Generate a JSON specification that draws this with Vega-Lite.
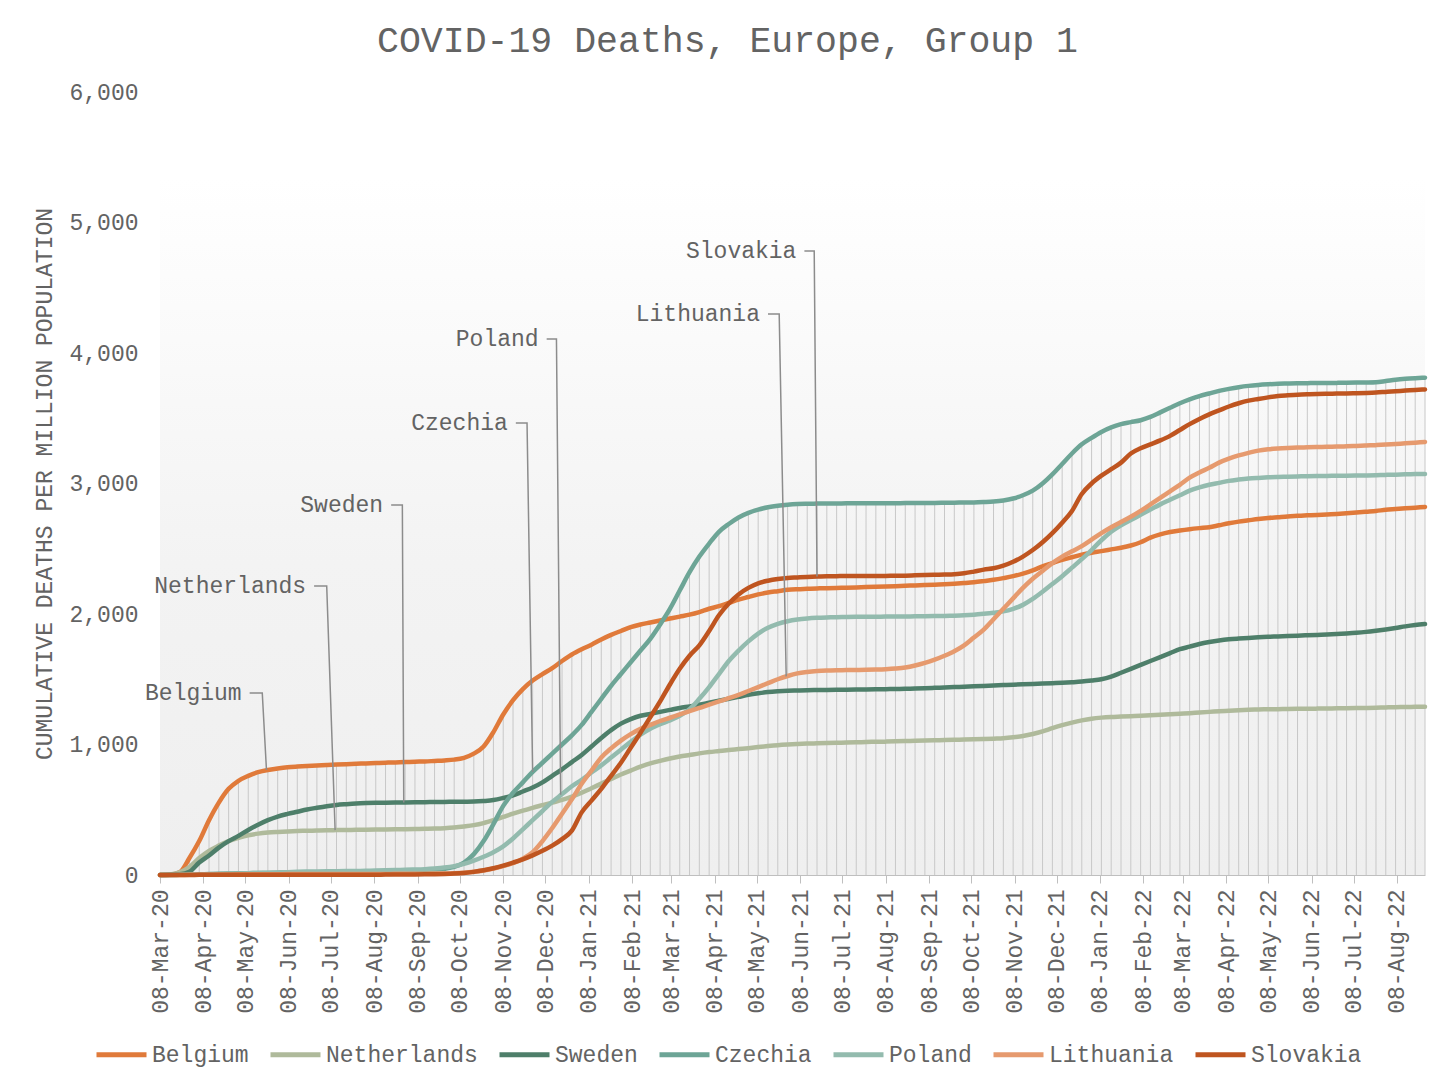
{
  "$schema": "https://vega.github.io/schema/vega-lite/v6.json",
  "width": 1265,
  "height": 783,
  "autosize": "none",
  "padding": {"left": 160, "top": 92, "right": 31, "bottom": 217},
  "background": "#ffffff",
  "title": {
    "text": "COVID-19 Deaths, Europe, Group 1",
    "font": "Liberation Mono",
    "fontSize": 36.5,
    "fontWeight": "normal",
    "color": "#636363",
    "offset": 22,
    "dx": -65
  },
  "config": {
    "font": "Liberation Mono",
    "view": {
      "stroke": null,
      "fill": {
        "gradient": "linear", "x1": 0, "y1": 0, "x2": 0, "y2": 1,
        "stops": [
          {"offset": 0, "color": "#ffffff"},
          {"offset": 0.11, "color": "#ffffff"},
          {"offset": 0.6, "color": "#f3f3f3"},
          {"offset": 1, "color": "#efefef"}
        ]
      }
    }
  },
  "datasets": {
    "deaths": [
      {"date": "2020-03-08", "Belgium": 0, "Netherlands": 0, "Sweden": 0, "Czechia": 0, "Poland": 0, "Lithuania": 0, "Slovakia": 0},
      {"date": "2020-03-15", "Belgium": 2, "Netherlands": 3, "Sweden": 1, "Czechia": 0, "Poland": 0, "Lithuania": 0, "Slovakia": 0},
      {"date": "2020-03-22", "Belgium": 20, "Netherlands": 20, "Sweden": 5, "Czechia": 1, "Poland": 1, "Lithuania": 0, "Slovakia": 0},
      {"date": "2020-03-29", "Belgium": 130, "Netherlands": 60, "Sweden": 25, "Czechia": 3, "Poland": 2, "Lithuania": 1, "Slovakia": 0},
      {"date": "2020-04-05", "Belgium": 260, "Netherlands": 130, "Sweden": 95, "Czechia": 5, "Poland": 4, "Lithuania": 1, "Slovakia": 1},
      {"date": "2020-04-12", "Belgium": 420, "Netherlands": 185, "Sweden": 150, "Czechia": 7, "Poland": 6, "Lithuania": 2, "Slovakia": 1},
      {"date": "2020-04-19", "Belgium": 555, "Netherlands": 225, "Sweden": 210, "Czechia": 9, "Poland": 8, "Lithuania": 3, "Slovakia": 1},
      {"date": "2020-04-26", "Belgium": 660, "Netherlands": 260, "Sweden": 260, "Czechia": 11, "Poland": 10, "Lithuania": 4, "Slovakia": 1},
      {"date": "2020-05-03", "Belgium": 722, "Netherlands": 285, "Sweden": 300, "Czechia": 13, "Poland": 12, "Lithuania": 5, "Slovakia": 1},
      {"date": "2020-05-10", "Belgium": 760, "Netherlands": 305, "Sweden": 345, "Czechia": 14, "Poland": 14, "Lithuania": 5, "Slovakia": 1},
      {"date": "2020-05-17", "Belgium": 788, "Netherlands": 317, "Sweden": 385, "Czechia": 15, "Poland": 16, "Lithuania": 6, "Slovakia": 1},
      {"date": "2020-05-24", "Belgium": 805, "Netherlands": 325, "Sweden": 420, "Czechia": 16, "Poland": 18, "Lithuania": 6, "Slovakia": 1},
      {"date": "2020-05-31", "Belgium": 816, "Netherlands": 330, "Sweden": 448, "Czechia": 17, "Poland": 20, "Lithuania": 6, "Slovakia": 1},
      {"date": "2020-06-07", "Belgium": 825, "Netherlands": 334, "Sweden": 468, "Czechia": 18, "Poland": 22, "Lithuania": 7, "Slovakia": 1},
      {"date": "2020-06-14", "Belgium": 831, "Netherlands": 337, "Sweden": 485, "Czechia": 19, "Poland": 24, "Lithuania": 7, "Slovakia": 1},
      {"date": "2020-06-21", "Belgium": 836, "Netherlands": 339, "Sweden": 502, "Czechia": 20, "Poland": 26, "Lithuania": 7, "Slovakia": 1},
      {"date": "2020-06-28", "Belgium": 840, "Netherlands": 341, "Sweden": 515, "Czechia": 21, "Poland": 27, "Lithuania": 7, "Slovakia": 2},
      {"date": "2020-07-05", "Belgium": 843, "Netherlands": 343, "Sweden": 527, "Czechia": 22, "Poland": 28, "Lithuania": 7, "Slovakia": 2},
      {"date": "2020-07-12", "Belgium": 846, "Netherlands": 344, "Sweden": 537, "Czechia": 23, "Poland": 29, "Lithuania": 7, "Slovakia": 2},
      {"date": "2020-07-19", "Belgium": 849, "Netherlands": 345, "Sweden": 543, "Czechia": 24, "Poland": 30, "Lithuania": 7, "Slovakia": 2},
      {"date": "2020-07-26", "Belgium": 852, "Netherlands": 346, "Sweden": 548, "Czechia": 25, "Poland": 31, "Lithuania": 8, "Slovakia": 2},
      {"date": "2020-08-02", "Belgium": 855, "Netherlands": 347, "Sweden": 551, "Czechia": 26, "Poland": 32, "Lithuania": 8, "Slovakia": 2},
      {"date": "2020-08-09", "Belgium": 858, "Netherlands": 348, "Sweden": 553, "Czechia": 27, "Poland": 34, "Lithuania": 8, "Slovakia": 2},
      {"date": "2020-08-16", "Belgium": 861, "Netherlands": 349, "Sweden": 554, "Czechia": 28, "Poland": 36, "Lithuania": 8, "Slovakia": 3},
      {"date": "2020-08-23", "Belgium": 863, "Netherlands": 350, "Sweden": 555, "Czechia": 29, "Poland": 38, "Lithuania": 9, "Slovakia": 3},
      {"date": "2020-08-30", "Belgium": 865, "Netherlands": 351, "Sweden": 556, "Czechia": 31, "Poland": 40, "Lithuania": 9, "Slovakia": 3},
      {"date": "2020-09-06", "Belgium": 868, "Netherlands": 352, "Sweden": 557, "Czechia": 33, "Poland": 42, "Lithuania": 10, "Slovakia": 4},
      {"date": "2020-09-13", "Belgium": 870, "Netherlands": 354, "Sweden": 558, "Czechia": 36, "Poland": 45, "Lithuania": 10, "Slovakia": 5},
      {"date": "2020-09-20", "Belgium": 874, "Netherlands": 356, "Sweden": 559, "Czechia": 40, "Poland": 50, "Lithuania": 11, "Slovakia": 6},
      {"date": "2020-09-27", "Belgium": 878, "Netherlands": 359, "Sweden": 560, "Czechia": 48, "Poland": 57, "Lithuania": 12, "Slovakia": 8},
      {"date": "2020-10-04", "Belgium": 884, "Netherlands": 364, "Sweden": 561, "Czechia": 62, "Poland": 68, "Lithuania": 14, "Slovakia": 11},
      {"date": "2020-10-11", "Belgium": 898, "Netherlands": 372, "Sweden": 562, "Czechia": 95, "Poland": 85, "Lithuania": 18, "Slovakia": 16},
      {"date": "2020-10-18", "Belgium": 930, "Netherlands": 382, "Sweden": 563, "Czechia": 160, "Poland": 110, "Lithuania": 25, "Slovakia": 24},
      {"date": "2020-10-25", "Belgium": 985, "Netherlands": 398, "Sweden": 567, "Czechia": 260, "Poland": 140, "Lithuania": 35, "Slovakia": 36},
      {"date": "2020-11-01", "Belgium": 1095, "Netherlands": 420, "Sweden": 574, "Czechia": 390, "Poland": 175, "Lithuania": 50, "Slovakia": 52},
      {"date": "2020-11-08", "Belgium": 1230, "Netherlands": 445, "Sweden": 590, "Czechia": 530, "Poland": 220, "Lithuania": 68, "Slovakia": 72},
      {"date": "2020-11-15", "Belgium": 1340, "Netherlands": 470, "Sweden": 610, "Czechia": 630, "Poland": 280, "Lithuania": 90, "Slovakia": 95},
      {"date": "2020-11-22", "Belgium": 1425, "Netherlands": 493, "Sweden": 640, "Czechia": 710, "Poland": 350, "Lithuania": 125, "Slovakia": 120},
      {"date": "2020-11-29", "Belgium": 1490, "Netherlands": 515, "Sweden": 670, "Czechia": 790, "Poland": 420, "Lithuania": 175, "Slovakia": 150},
      {"date": "2020-12-06", "Belgium": 1540, "Netherlands": 535, "Sweden": 710, "Czechia": 860, "Poland": 490, "Lithuania": 260, "Slovakia": 185},
      {"date": "2020-12-13", "Belgium": 1585, "Netherlands": 555, "Sweden": 760, "Czechia": 930, "Poland": 560, "Lithuania": 360, "Slovakia": 225},
      {"date": "2020-12-20", "Belgium": 1640, "Netherlands": 575, "Sweden": 810, "Czechia": 1000, "Poland": 620, "Lithuania": 470, "Slovakia": 275},
      {"date": "2020-12-27", "Belgium": 1690, "Netherlands": 600, "Sweden": 865, "Czechia": 1070, "Poland": 680, "Lithuania": 580, "Slovakia": 340},
      {"date": "2021-01-03", "Belgium": 1730, "Netherlands": 630, "Sweden": 920, "Czechia": 1150, "Poland": 730, "Lithuania": 700, "Slovakia": 480},
      {"date": "2021-01-10", "Belgium": 1765, "Netherlands": 665, "Sweden": 985, "Czechia": 1250, "Poland": 785, "Lithuania": 800, "Slovakia": 570},
      {"date": "2021-01-17", "Belgium": 1805, "Netherlands": 700, "Sweden": 1050, "Czechia": 1350, "Poland": 840, "Lithuania": 900, "Slovakia": 660},
      {"date": "2021-01-24", "Belgium": 1840, "Netherlands": 735, "Sweden": 1110, "Czechia": 1450, "Poland": 900, "Lithuania": 970, "Slovakia": 760},
      {"date": "2021-01-31", "Belgium": 1870, "Netherlands": 770, "Sweden": 1160, "Czechia": 1540, "Poland": 960, "Lithuania": 1030, "Slovakia": 860},
      {"date": "2021-02-07", "Belgium": 1900, "Netherlands": 800, "Sweden": 1195, "Czechia": 1630, "Poland": 1020, "Lithuania": 1080, "Slovakia": 975},
      {"date": "2021-02-14", "Belgium": 1920, "Netherlands": 830, "Sweden": 1220, "Czechia": 1720, "Poland": 1075, "Lithuania": 1120, "Slovakia": 1090},
      {"date": "2021-02-21", "Belgium": 1935, "Netherlands": 855, "Sweden": 1235, "Czechia": 1810, "Poland": 1120, "Lithuania": 1150, "Slovakia": 1210},
      {"date": "2021-02-28", "Belgium": 1950, "Netherlands": 875, "Sweden": 1250, "Czechia": 1920, "Poland": 1155, "Lithuania": 1180, "Slovakia": 1330},
      {"date": "2021-03-07", "Belgium": 1965, "Netherlands": 893, "Sweden": 1265, "Czechia": 2040, "Poland": 1185, "Lithuania": 1205, "Slovakia": 1460},
      {"date": "2021-03-14", "Belgium": 1980, "Netherlands": 908, "Sweden": 1280, "Czechia": 2180, "Poland": 1220, "Lithuania": 1230, "Slovakia": 1580},
      {"date": "2021-03-21", "Belgium": 1995, "Netherlands": 920, "Sweden": 1292, "Czechia": 2320, "Poland": 1270, "Lithuania": 1255, "Slovakia": 1680},
      {"date": "2021-03-28", "Belgium": 2015, "Netherlands": 932, "Sweden": 1305, "Czechia": 2440, "Poland": 1350, "Lithuania": 1280, "Slovakia": 1760},
      {"date": "2021-04-04", "Belgium": 2040, "Netherlands": 942, "Sweden": 1320, "Czechia": 2540, "Poland": 1440, "Lithuania": 1305, "Slovakia": 1870},
      {"date": "2021-04-11", "Belgium": 2060, "Netherlands": 950, "Sweden": 1335, "Czechia": 2630, "Poland": 1540, "Lithuania": 1330, "Slovakia": 1990},
      {"date": "2021-04-18", "Belgium": 2085, "Netherlands": 958, "Sweden": 1350, "Czechia": 2690, "Poland": 1640, "Lithuania": 1355, "Slovakia": 2080},
      {"date": "2021-04-25", "Belgium": 2110, "Netherlands": 965, "Sweden": 1365, "Czechia": 2740, "Poland": 1720, "Lithuania": 1380, "Slovakia": 2150},
      {"date": "2021-05-02", "Belgium": 2130, "Netherlands": 972, "Sweden": 1380, "Czechia": 2775, "Poland": 1790, "Lithuania": 1410, "Slovakia": 2200},
      {"date": "2021-05-09", "Belgium": 2150, "Netherlands": 980, "Sweden": 1392, "Czechia": 2800, "Poland": 1850, "Lithuania": 1440, "Slovakia": 2235},
      {"date": "2021-05-16", "Belgium": 2165, "Netherlands": 988, "Sweden": 1402, "Czechia": 2818, "Poland": 1895, "Lithuania": 1470, "Slovakia": 2255},
      {"date": "2021-05-23", "Belgium": 2175, "Netherlands": 995, "Sweden": 1408, "Czechia": 2830, "Poland": 1925, "Lithuania": 1500, "Slovakia": 2268},
      {"date": "2021-05-30", "Belgium": 2185, "Netherlands": 1000, "Sweden": 1412, "Czechia": 2838, "Poland": 1945, "Lithuania": 1525, "Slovakia": 2276},
      {"date": "2021-06-06", "Belgium": 2190, "Netherlands": 1004, "Sweden": 1414, "Czechia": 2843, "Poland": 1958, "Lithuania": 1545, "Slovakia": 2280},
      {"date": "2021-06-13", "Belgium": 2193, "Netherlands": 1007, "Sweden": 1416, "Czechia": 2845, "Poland": 1966, "Lithuania": 1556, "Slovakia": 2284},
      {"date": "2021-06-20", "Belgium": 2196, "Netherlands": 1009, "Sweden": 1417, "Czechia": 2846, "Poland": 1971, "Lithuania": 1563, "Slovakia": 2287},
      {"date": "2021-06-27", "Belgium": 2198, "Netherlands": 1011, "Sweden": 1418, "Czechia": 2847, "Poland": 1974, "Lithuania": 1567, "Slovakia": 2289},
      {"date": "2021-07-04", "Belgium": 2200, "Netherlands": 1013, "Sweden": 1419, "Czechia": 2847, "Poland": 1976, "Lithuania": 1569, "Slovakia": 2290},
      {"date": "2021-07-11", "Belgium": 2202, "Netherlands": 1015, "Sweden": 1420, "Czechia": 2848, "Poland": 1977, "Lithuania": 1570, "Slovakia": 2291},
      {"date": "2021-07-18", "Belgium": 2204, "Netherlands": 1017, "Sweden": 1421, "Czechia": 2848, "Poland": 1978, "Lithuania": 1571, "Slovakia": 2291},
      {"date": "2021-07-25", "Belgium": 2206, "Netherlands": 1019, "Sweden": 1422, "Czechia": 2848, "Poland": 1979, "Lithuania": 1572, "Slovakia": 2291},
      {"date": "2021-08-01", "Belgium": 2208, "Netherlands": 1021, "Sweden": 1423, "Czechia": 2848, "Poland": 1979, "Lithuania": 1574, "Slovakia": 2291},
      {"date": "2021-08-08", "Belgium": 2210, "Netherlands": 1022, "Sweden": 1424, "Czechia": 2849, "Poland": 1980, "Lithuania": 1577, "Slovakia": 2292},
      {"date": "2021-08-15", "Belgium": 2213, "Netherlands": 1024, "Sweden": 1425, "Czechia": 2849, "Poland": 1980, "Lithuania": 1582, "Slovakia": 2293},
      {"date": "2021-08-22", "Belgium": 2216, "Netherlands": 1026, "Sweden": 1427, "Czechia": 2850, "Poland": 1981, "Lithuania": 1590, "Slovakia": 2294},
      {"date": "2021-08-29", "Belgium": 2219, "Netherlands": 1028, "Sweden": 1429, "Czechia": 2850, "Poland": 1982, "Lithuania": 1605, "Slovakia": 2296},
      {"date": "2021-09-05", "Belgium": 2222, "Netherlands": 1030, "Sweden": 1431, "Czechia": 2851, "Poland": 1983, "Lithuania": 1625, "Slovakia": 2298},
      {"date": "2021-09-12", "Belgium": 2225, "Netherlands": 1032, "Sweden": 1434, "Czechia": 2851, "Poland": 1984, "Lithuania": 1650, "Slovakia": 2300},
      {"date": "2021-09-19", "Belgium": 2228, "Netherlands": 1034, "Sweden": 1437, "Czechia": 2852, "Poland": 1985, "Lithuania": 1680, "Slovakia": 2302},
      {"date": "2021-09-26", "Belgium": 2232, "Netherlands": 1036, "Sweden": 1440, "Czechia": 2853, "Poland": 1987, "Lithuania": 1715, "Slovakia": 2305},
      {"date": "2021-10-03", "Belgium": 2237, "Netherlands": 1038, "Sweden": 1443, "Czechia": 2854, "Poland": 1990, "Lithuania": 1760, "Slovakia": 2312},
      {"date": "2021-10-10", "Belgium": 2243, "Netherlands": 1040, "Sweden": 1446, "Czechia": 2855, "Poland": 1995, "Lithuania": 1820, "Slovakia": 2325},
      {"date": "2021-10-17", "Belgium": 2252, "Netherlands": 1042, "Sweden": 1449, "Czechia": 2858, "Poland": 2002, "Lithuania": 1880, "Slovakia": 2340},
      {"date": "2021-10-24", "Belgium": 2262, "Netherlands": 1045, "Sweden": 1452, "Czechia": 2862, "Poland": 2010, "Lithuania": 1960, "Slovakia": 2350},
      {"date": "2021-10-31", "Belgium": 2275, "Netherlands": 1048, "Sweden": 1455, "Czechia": 2870, "Poland": 2020, "Lithuania": 2040, "Slovakia": 2370},
      {"date": "2021-11-07", "Belgium": 2290, "Netherlands": 1055, "Sweden": 1458, "Czechia": 2885, "Poland": 2040, "Lithuania": 2120, "Slovakia": 2400},
      {"date": "2021-11-14", "Belgium": 2310, "Netherlands": 1065, "Sweden": 1461, "Czechia": 2910, "Poland": 2070, "Lithuania": 2200, "Slovakia": 2440},
      {"date": "2021-11-21", "Belgium": 2335, "Netherlands": 1080, "Sweden": 1464, "Czechia": 2945, "Poland": 2115, "Lithuania": 2270, "Slovakia": 2490},
      {"date": "2021-11-28", "Belgium": 2365, "Netherlands": 1100, "Sweden": 1467, "Czechia": 3000, "Poland": 2170, "Lithuania": 2330, "Slovakia": 2550},
      {"date": "2021-12-05", "Belgium": 2390, "Netherlands": 1125, "Sweden": 1470, "Czechia": 3070, "Poland": 2230, "Lithuania": 2390, "Slovakia": 2620},
      {"date": "2021-12-12", "Belgium": 2415, "Netherlands": 1148, "Sweden": 1473, "Czechia": 3150, "Poland": 2290, "Lithuania": 2440, "Slovakia": 2700},
      {"date": "2021-12-19", "Belgium": 2435, "Netherlands": 1168, "Sweden": 1477, "Czechia": 3230, "Poland": 2355, "Lithuania": 2480, "Slovakia": 2790},
      {"date": "2021-12-26", "Belgium": 2455, "Netherlands": 1185, "Sweden": 1482, "Czechia": 3300, "Poland": 2420, "Lithuania": 2520, "Slovakia": 2920},
      {"date": "2022-01-02", "Belgium": 2470, "Netherlands": 1198, "Sweden": 1490, "Czechia": 3350, "Poland": 2490, "Lithuania": 2570, "Slovakia": 3000},
      {"date": "2022-01-09", "Belgium": 2482, "Netherlands": 1206, "Sweden": 1500, "Czechia": 3395, "Poland": 2565, "Lithuania": 2620, "Slovakia": 3060},
      {"date": "2022-01-16", "Belgium": 2495, "Netherlands": 1211, "Sweden": 1520, "Czechia": 3430, "Poland": 2630, "Lithuania": 2665, "Slovakia": 3110},
      {"date": "2022-01-23", "Belgium": 2508, "Netherlands": 1214, "Sweden": 1550, "Czechia": 3455, "Poland": 2680, "Lithuania": 2705, "Slovakia": 3160},
      {"date": "2022-01-30", "Belgium": 2525, "Netherlands": 1217, "Sweden": 1580, "Czechia": 3470, "Poland": 2720, "Lithuania": 2745, "Slovakia": 3230},
      {"date": "2022-02-06", "Belgium": 2550, "Netherlands": 1220, "Sweden": 1610, "Czechia": 3485, "Poland": 2760, "Lithuania": 2790, "Slovakia": 3270},
      {"date": "2022-02-13", "Belgium": 2585, "Netherlands": 1224, "Sweden": 1640, "Czechia": 3510, "Poland": 2800, "Lithuania": 2840, "Slovakia": 3300},
      {"date": "2022-02-20", "Belgium": 2610, "Netherlands": 1228, "Sweden": 1670, "Czechia": 3545, "Poland": 2840, "Lithuania": 2890, "Slovakia": 3330},
      {"date": "2022-02-27", "Belgium": 2628, "Netherlands": 1232, "Sweden": 1700, "Czechia": 3580, "Poland": 2875, "Lithuania": 2940, "Slovakia": 3365},
      {"date": "2022-03-06", "Belgium": 2640, "Netherlands": 1236, "Sweden": 1730, "Czechia": 3615, "Poland": 2910, "Lithuania": 2990, "Slovakia": 3410},
      {"date": "2022-03-13", "Belgium": 2650, "Netherlands": 1240, "Sweden": 1750, "Czechia": 3645, "Poland": 2945, "Lithuania": 3045, "Slovakia": 3455},
      {"date": "2022-03-20", "Belgium": 2658, "Netherlands": 1245, "Sweden": 1770, "Czechia": 3670, "Poland": 2970, "Lithuania": 3085, "Slovakia": 3495},
      {"date": "2022-03-27", "Belgium": 2665, "Netherlands": 1250, "Sweden": 1785, "Czechia": 3690, "Poland": 2990, "Lithuania": 3120, "Slovakia": 3530},
      {"date": "2022-04-03", "Belgium": 2680, "Netherlands": 1255, "Sweden": 1797, "Czechia": 3710, "Poland": 3005, "Lithuania": 3160, "Slovakia": 3560},
      {"date": "2022-04-10", "Belgium": 2695, "Netherlands": 1259, "Sweden": 1806, "Czechia": 3725, "Poland": 3020, "Lithuania": 3190, "Slovakia": 3590},
      {"date": "2022-04-17", "Belgium": 2708, "Netherlands": 1263, "Sweden": 1812, "Czechia": 3738, "Poland": 3030, "Lithuania": 3215, "Slovakia": 3615},
      {"date": "2022-04-24", "Belgium": 2718, "Netherlands": 1266, "Sweden": 1817, "Czechia": 3748, "Poland": 3038, "Lithuania": 3235, "Slovakia": 3635},
      {"date": "2022-05-01", "Belgium": 2728, "Netherlands": 1268, "Sweden": 1821, "Czechia": 3755, "Poland": 3043, "Lithuania": 3252, "Slovakia": 3648},
      {"date": "2022-05-08", "Belgium": 2736, "Netherlands": 1270, "Sweden": 1825, "Czechia": 3760, "Poland": 3047, "Lithuania": 3262, "Slovakia": 3660},
      {"date": "2022-05-15", "Belgium": 2742, "Netherlands": 1271, "Sweden": 1828, "Czechia": 3764, "Poland": 3050, "Lithuania": 3268, "Slovakia": 3670},
      {"date": "2022-05-22", "Belgium": 2748, "Netherlands": 1272, "Sweden": 1831, "Czechia": 3766, "Poland": 3052, "Lithuania": 3272, "Slovakia": 3676},
      {"date": "2022-05-29", "Belgium": 2752, "Netherlands": 1273, "Sweden": 1834, "Czechia": 3768, "Poland": 3054, "Lithuania": 3275, "Slovakia": 3681},
      {"date": "2022-06-05", "Belgium": 2756, "Netherlands": 1274, "Sweden": 1837, "Czechia": 3769, "Poland": 3056, "Lithuania": 3277, "Slovakia": 3684},
      {"date": "2022-06-12", "Belgium": 2759, "Netherlands": 1275, "Sweden": 1840, "Czechia": 3770, "Poland": 3057, "Lithuania": 3279, "Slovakia": 3686},
      {"date": "2022-06-19", "Belgium": 2763, "Netherlands": 1276, "Sweden": 1843, "Czechia": 3770, "Poland": 3058, "Lithuania": 3281, "Slovakia": 3688},
      {"date": "2022-06-26", "Belgium": 2767, "Netherlands": 1277, "Sweden": 1847, "Czechia": 3771, "Poland": 3059, "Lithuania": 3283, "Slovakia": 3689},
      {"date": "2022-07-03", "Belgium": 2772, "Netherlands": 1278, "Sweden": 1851, "Czechia": 3772, "Poland": 3060, "Lithuania": 3285, "Slovakia": 3690},
      {"date": "2022-07-10", "Belgium": 2778, "Netherlands": 1279, "Sweden": 1856, "Czechia": 3773, "Poland": 3061, "Lithuania": 3288, "Slovakia": 3692},
      {"date": "2022-07-17", "Belgium": 2784, "Netherlands": 1280, "Sweden": 1863, "Czechia": 3774, "Poland": 3062, "Lithuania": 3291, "Slovakia": 3694},
      {"date": "2022-07-24", "Belgium": 2790, "Netherlands": 1282, "Sweden": 1872, "Czechia": 3776, "Poland": 3064, "Lithuania": 3294, "Slovakia": 3697},
      {"date": "2022-07-31", "Belgium": 2798, "Netherlands": 1284, "Sweden": 1882, "Czechia": 3785, "Poland": 3066, "Lithuania": 3298, "Slovakia": 3702},
      {"date": "2022-08-07", "Belgium": 2804, "Netherlands": 1286, "Sweden": 1893, "Czechia": 3795, "Poland": 3068, "Lithuania": 3303, "Slovakia": 3707},
      {"date": "2022-08-14", "Belgium": 2810, "Netherlands": 1287, "Sweden": 1905, "Czechia": 3802, "Poland": 3070, "Lithuania": 3308, "Slovakia": 3712},
      {"date": "2022-08-21", "Belgium": 2815, "Netherlands": 1289, "Sweden": 1915, "Czechia": 3807, "Poland": 3072, "Lithuania": 3313, "Slovakia": 3717},
      {"date": "2022-08-28", "Belgium": 2820, "Netherlands": 1290, "Sweden": 1923, "Czechia": 3811, "Poland": 3073, "Lithuania": 3318, "Slovakia": 3721}
    ],
    "leaders": [
      {"label": "Belgium", "step": 0, "date": "2020-05-11", "value": 1395},
      {"label": "Belgium", "step": 1, "date": "2020-05-20", "value": 1395},
      {"label": "Belgium", "step": 2, "date": "2020-05-23", "value": 805},
      {"label": "Netherlands", "step": 0, "date": "2020-06-26", "value": 2215},
      {"label": "Netherlands", "step": 1, "date": "2020-07-05", "value": 2215},
      {"label": "Netherlands", "step": 2, "date": "2020-07-11", "value": 344},
      {"label": "Sweden", "step": 0, "date": "2020-08-20", "value": 2835},
      {"label": "Sweden", "step": 1, "date": "2020-08-28", "value": 2835},
      {"label": "Sweden", "step": 2, "date": "2020-08-29", "value": 556},
      {"label": "Czechia", "step": 0, "date": "2020-11-17", "value": 3464},
      {"label": "Czechia", "step": 1, "date": "2020-11-25", "value": 3464},
      {"label": "Czechia", "step": 2, "date": "2020-11-29", "value": 790},
      {"label": "Poland", "step": 0, "date": "2020-12-09", "value": 4107},
      {"label": "Poland", "step": 1, "date": "2020-12-16", "value": 4107},
      {"label": "Poland", "step": 2, "date": "2020-12-19", "value": 615},
      {"label": "Lithuania", "step": 0, "date": "2021-05-16", "value": 4299},
      {"label": "Lithuania", "step": 1, "date": "2021-05-24", "value": 4299},
      {"label": "Lithuania", "step": 2, "date": "2021-05-29", "value": 1522},
      {"label": "Slovakia", "step": 0, "date": "2021-06-11", "value": 4782},
      {"label": "Slovakia", "step": 1, "date": "2021-06-18", "value": 4782},
      {"label": "Slovakia", "step": 2, "date": "2021-06-20", "value": 2287}
    ],
    "labels": [
      {"label": "Belgium", "date": "2020-05-11", "value": 1395},
      {"label": "Netherlands", "date": "2020-06-26", "value": 2215},
      {"label": "Sweden", "date": "2020-08-20", "value": 2835},
      {"label": "Czechia", "date": "2020-11-17", "value": 3464},
      {"label": "Poland", "date": "2020-12-09", "value": 4107},
      {"label": "Lithuania", "date": "2021-05-16", "value": 4299},
      {"label": "Slovakia", "date": "2021-06-11", "value": 4782}
    ]
  },
  "encoding": {
    "x": {
      "field": "date",
      "type": "temporal",
      "title": null,
      "scale": {
        "type": "utc",
        "nice": false,
        "domain": [
          {"year": 2020, "month": 3, "date": 8, "utc": true},
          {"year": 2022, "month": 8, "date": 28, "utc": true}
        ]
      },
      "axis": {
        "format": "%d-%b-%y",
        "labelAngle": 270,
        "labelFont": "Liberation Mono",
        "labelFontSize": 23,
        "labelColor": "#636363",
        "labelPadding": 6,
        "labelOverlap": false,
        "labelFlush": false,
        "grid": false,
        "domainColor": "#bfbfbf",
        "tickColor": "#bfbfbf",
        "tickSize": 8,
        "values": [
          {"year": 2020, "month": 3, "date": 8, "utc": true},
          {"year": 2020, "month": 4, "date": 8, "utc": true},
          {"year": 2020, "month": 5, "date": 8, "utc": true},
          {"year": 2020, "month": 6, "date": 8, "utc": true},
          {"year": 2020, "month": 7, "date": 8, "utc": true},
          {"year": 2020, "month": 8, "date": 8, "utc": true},
          {"year": 2020, "month": 9, "date": 8, "utc": true},
          {"year": 2020, "month": 10, "date": 8, "utc": true},
          {"year": 2020, "month": 11, "date": 8, "utc": true},
          {"year": 2020, "month": 12, "date": 8, "utc": true},
          {"year": 2021, "month": 1, "date": 8, "utc": true},
          {"year": 2021, "month": 2, "date": 8, "utc": true},
          {"year": 2021, "month": 3, "date": 8, "utc": true},
          {"year": 2021, "month": 4, "date": 8, "utc": true},
          {"year": 2021, "month": 5, "date": 8, "utc": true},
          {"year": 2021, "month": 6, "date": 8, "utc": true},
          {"year": 2021, "month": 7, "date": 8, "utc": true},
          {"year": 2021, "month": 8, "date": 8, "utc": true},
          {"year": 2021, "month": 9, "date": 8, "utc": true},
          {"year": 2021, "month": 10, "date": 8, "utc": true},
          {"year": 2021, "month": 11, "date": 8, "utc": true},
          {"year": 2021, "month": 12, "date": 8, "utc": true},
          {"year": 2022, "month": 1, "date": 8, "utc": true},
          {"year": 2022, "month": 2, "date": 8, "utc": true},
          {"year": 2022, "month": 3, "date": 8, "utc": true},
          {"year": 2022, "month": 4, "date": 8, "utc": true},
          {"year": 2022, "month": 5, "date": 8, "utc": true},
          {"year": 2022, "month": 6, "date": 8, "utc": true},
          {"year": 2022, "month": 7, "date": 8, "utc": true},
          {"year": 2022, "month": 8, "date": 8, "utc": true}
        ]
      }
    },
    "y": {
      "field": "value",
      "type": "quantitative",
      "title": "CUMULATIVE DEATHS PER MILLION POPULATION",
      "scale": {"domain": [0, 6000], "nice": false},
      "axis": {
        "values": [0, 1000, 2000, 3000, 4000, 5000, 6000],
        "format": ",.0f",
        "domain": false,
        "ticks": false,
        "grid": false,
        "labelFont": "Liberation Mono",
        "labelFontSize": 23,
        "labelColor": "#636363",
        "labelPadding": 22,
        "titleFont": "Liberation Mono",
        "titleFontSize": 23,
        "titleFontWeight": "normal",
        "titleColor": "#636363",
        "titlePadding": 12
      }
    }
  },
  "layer": [
    {
      "data": {"name": "deaths"},
      "transform": [
        {"fold": ["Belgium", "Netherlands", "Sweden", "Czechia", "Poland", "Lithuania", "Slovakia"], "as": ["country", "v"]},
        {"aggregate": [{"op": "max", "field": "v", "as": "value"}], "groupby": ["date"]}
      ],
      "mark": {"type": "rule", "color": "#c8c8c8", "strokeWidth": 1},
      "encoding": {
        "y2": {"datum": 0}
      }
    },
    {
      "data": {"name": "deaths"},
      "transform": [
        {"fold": ["Belgium", "Netherlands", "Sweden", "Czechia", "Poland", "Lithuania", "Slovakia"], "as": ["country", "value"]}
      ],
      "mark": {"type": "line", "interpolate": "monotone", "strokeWidth": 4.5, "strokeCap": "round"},
      "encoding": {
        "color": {
          "field": "country",
          "type": "nominal",
          "sort": ["Belgium", "Netherlands", "Sweden", "Czechia", "Poland", "Lithuania", "Slovakia"],
          "scale": {
            "domain": ["Belgium", "Netherlands", "Sweden", "Czechia", "Poland", "Lithuania", "Slovakia"],
            "range": ["#e07a3a", "#afba9b", "#4e7f6a", "#6da596", "#93bbae", "#e69a6e", "#bf5520"]
          },
          "legend": {
            "title": null,
            "orient": "none",
            "legendX": -66,
            "legendY": 935,
            "direction": "horizontal",
            "symbolType": "stroke",
            "symbolSize": 2500,
            "symbolStrokeWidth": 5,
            "labelFont": "Liberation Mono",
            "labelFontSize": 23,
            "labelColor": "#636363",
            "labelOffset": 3,
            "columnPadding": 11
          }
        }
      }
    },
    {
      "data": {"name": "leaders"},
      "mark": {"type": "line", "color": "#8c8c8c", "strokeWidth": 1.5},
      "encoding": {
        "detail": {"field": "label", "type": "nominal"},
        "order": {"field": "step", "type": "quantitative"}
      }
    },
    {
      "data": {"name": "labels"},
      "mark": {"type": "text", "align": "right", "baseline": "middle", "dx": -8, "font": "Liberation Mono", "fontSize": 23, "color": "#636363"},
      "encoding": {
        "text": {"field": "label", "type": "nominal"}
      }
    }
  ]
}
